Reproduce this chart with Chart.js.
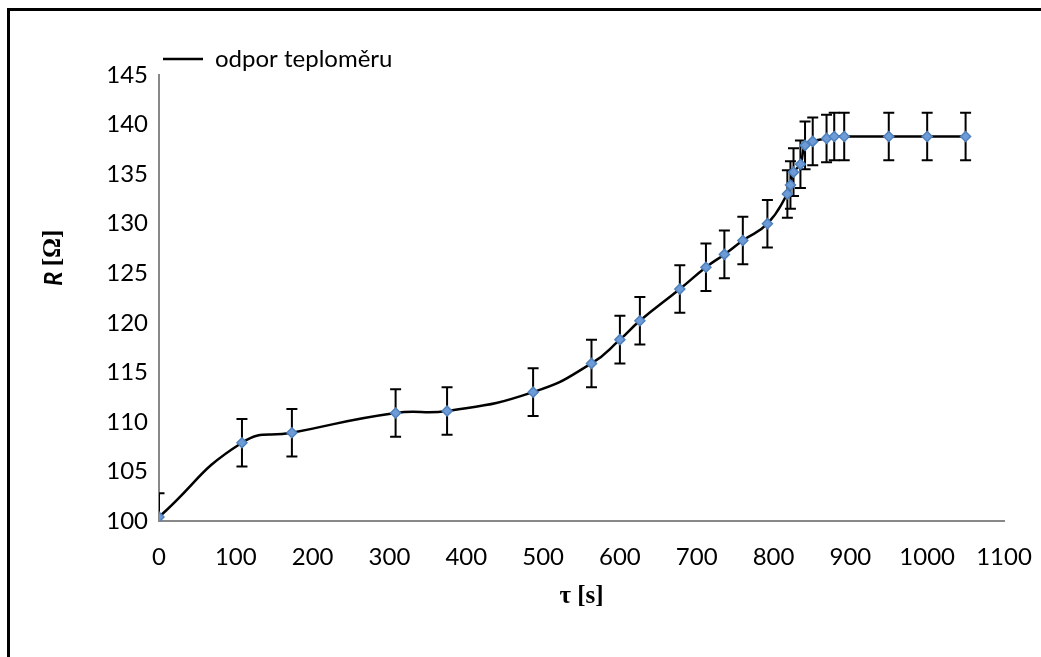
<!DOCTYPE html>
<html>
<head>
<meta charset="utf-8">
<script src="https://cdn.jsdelivr.net/npm/chart.js@4.4.1/dist/chart.umd.min.js"></script>
<style>
  body { margin: 0; background: #fff; overflow: hidden; }
  #wrap { position: relative; width: 1041px; height: 657px; }
  #frame { position: absolute; left: 7px; top: 8px; width: 1100px; height: 700px; border: 3px solid #000; box-sizing: border-box; }
  canvas { position: absolute; left: 0; top: 0; }
</style>
</head>
<body>
<div id="wrap">
  <div id="frame"></div>
  <canvas id="chart" width="1041" height="657"></canvas>
</div>
<script>
// cas [s] a odpor teplomeru [Ohm]
const timeS = [0, 108, 173, 308, 375, 487, 563, 600, 626, 678, 712, 736, 760, 792, 818, 822, 826, 835, 841, 851, 869, 879, 892, 950, 1000, 1050]
const resistance = [100.4, 107.9, 108.9, 110.9, 111.1, 113.0, 115.9, 118.3, 120.2, 123.4, 125.6, 126.9, 128.3, 130.0, 133.0, 133.9, 135.2, 136.0, 137.9, 138.3, 138.6, 138.8, 138.8, 138.8, 138.8, 138.8]
const resistanceErr = [2.4, 2.4, 2.4, 2.4, 2.4, 2.4, 2.4, 2.4, 2.4, 2.4, 2.4, 2.4, 2.4, 2.4, 2.4, 2.4, 2.4, 2.4, 2.4, 2.4, 2.4, 2.4, 2.4, 2.4, 2.4, 2.4]
const xTicks = [0, 100, 200, 300, 400, 500, 600, 700, 800, 900, 1000, 1100]
const yTicks = [100, 105, 110, 115, 120, 125, 130, 135, 140, 145]

const tickFont = { family: 'Lato', size: 24 }

// chybove usecky
const errorBars = {
    id: 'errorBars',
    beforeDatasetsDraw(chart) {
        const { ctx, chartArea, scales: { x, y } } = chart
        ctx.save()
        ctx.beginPath()
        ctx.rect(chartArea.left, chartArea.top - 2, chartArea.right - chartArea.left, chartArea.bottom - chartArea.top + 2)
        ctx.clip()
        ctx.strokeStyle = '#000'
        ctx.lineWidth = 2
        timeS.forEach((t, i) => {
            const px = x.getPixelForValue(t)
            const top = y.getPixelForValue(resistance[i] + resistanceErr[i])
            const bot = y.getPixelForValue(resistance[i] - resistanceErr[i])
            ctx.beginPath()
            ctx.moveTo(px, top); ctx.lineTo(px, bot)
            ctx.moveTo(px - 5.5, top); ctx.lineTo(px + 5.5, top)
            ctx.moveTo(px - 5.5, bot); ctx.lineTo(px + 5.5, bot)
            ctx.stroke()
        })
        ctx.restore()
    }
}

// popisek osy y: R kurzivou, [Ω] patkovym pismem
const yTitle = {
    id: 'yTitle',
    afterDraw(chart) {
        const { ctx, chartArea } = chart
        const cy = chartArea.top + (chartArea.bottom - chartArea.top) * 0.41
        ctx.save()
        ctx.translate(54, cy)
        ctx.rotate(-Math.PI / 2)
        ctx.fillStyle = '#000'
        ctx.textBaseline = 'middle'
        const partR = 'R '
        const partU = '[Ω]'
        ctx.font = 'italic bold 24px Lato'
        const wR = ctx.measureText(partR).width
        ctx.font = 'bold 25px "Liberation Serif"'
        const wU = ctx.measureText(partU).width
        let sx = -(wR + wU) / 2
        ctx.font = 'italic bold 24px Lato'
        ctx.fillText(partR, sx, 0)
        ctx.font = 'bold 25px "Liberation Serif"'
        ctx.fillText(partU, sx + wR, 0)
        ctx.restore()
    }
}

const ctx = document.getElementById('chart').getContext('2d')
new Chart(ctx, {
    type: 'scatter',
    data: {
        datasets: [
            {
                label: 'odpor teploměru',
                data: timeS.map((t, i) => ({ x: t, y: resistance[i] })),
                showLine: true,
                borderColor: '#000',
                borderWidth: 2.5,
                tension: 0.5,
                pointStyle: 'rectRot',
                pointRadius: 5,
                pointBackgroundColor: '#6d9bd8',
                pointBorderColor: '#4f81bd',
                pointBorderWidth: 1.5,
            },
        ]
    },
    options: {
        responsive: false,
        animation: false,
        layout: { padding: { left: 36, top: 43, right: 37, bottom: 41 } },
        plugins: {
            tooltip: { enabled: false },
            legend: {
                position: 'top',
                align: 'start',
                fullSize: false,
                maxHeight: 32,
                labels: {
                    usePointStyle: true,
                    pointStyle: 'line',
                    pointStyleWidth: 40,
                    padding: 4,
                    color: '#000',
                    font: tickFont,
                    generateLabels: (chart) => Chart.defaults.plugins.legend.labels.generateLabels(chart)
                        .map(item => ({ ...item, strokeStyle: '#000', fillStyle: '#000', lineWidth: 2.5 }))
                }
            }
        },
        scales: {
            x: {
                type: 'linear',
                min: 0,
                max: 1100,
                afterBuildTicks: (s) => { s.ticks = xTicks.map(v => ({ value: v })) },
                afterFit: (s) => { s.height = 95; s.paddingRight = 0; s.paddingLeft = 0 },
                grid: { display: false, drawTicks: false },
                border: { color: '#888', width: 2 },
                ticks: { color: '#000', font: tickFont, padding: 22, maxRotation: 0, callback: (v) => String(v) },
                title: {
                    display: true,
                    text: 'τ [s]',
                    color: '#000',
                    font: { family: 'Liberation Serif', size: 25, weight: 'bold' },
                    padding: { top: 4, bottom: 4 }
                }
            },
            y: {
                min: 100,
                max: 145,
                afterBuildTicks: (s) => { s.ticks = yTicks.map(v => ({ value: v })) },
                afterFit: (s) => { s.width = 123 },
                grid: { display: false, drawTicks: false },
                border: { color: '#888', width: 2 },
                ticks: { color: '#000', font: tickFont, padding: 11, callback: (v) => String(v) },
            }
        }
    },
    plugins: [errorBars, yTitle]
})
</script>
</body>
</html>
